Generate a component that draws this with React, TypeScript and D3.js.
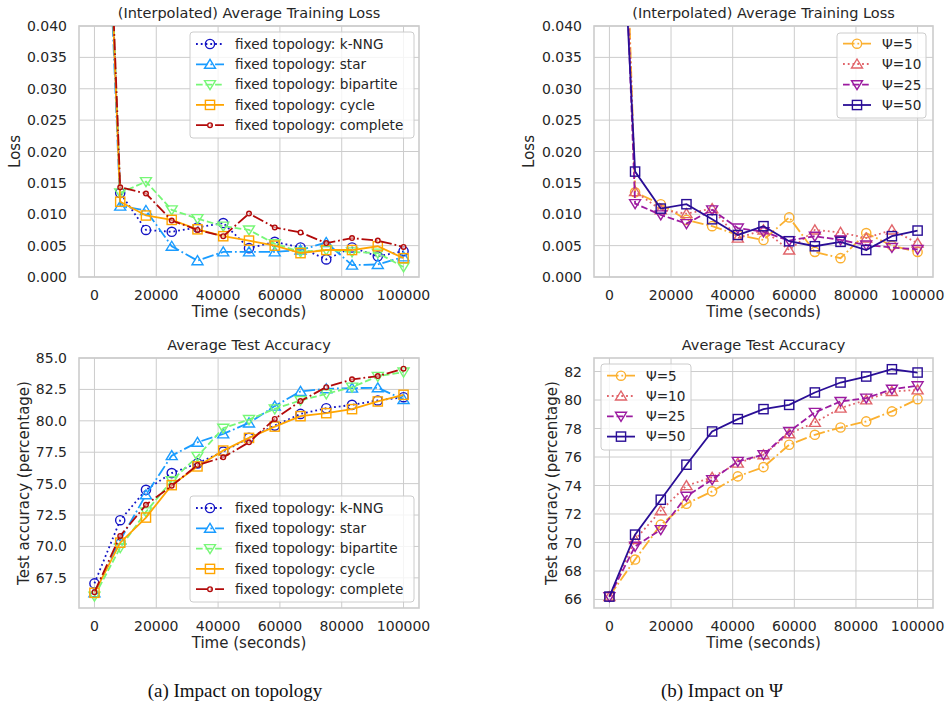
import React from 'react';
import * as d3 from 'd3';

// time axis (seconds), one entry per evaluation round
const times = [0, 8333, 16667, 25000, 33333, 41667, 50000, 58333, 66667, 75000, 83333, 91667, 100000];

// (a) topology - interpolated training loss (first value is off the chart)
const lossKnng = [0.115, 0.0134, 0.0075, 0.0072, 0.0079, 0.0086, 0.0046, 0.0056, 0.0047, 0.0028, 0.0047, 0.0033, 0.0041];
const lossStar = [0.11, 0.0113, 0.0106, 0.0049, 0.0026, 0.004, 0.004, 0.004, 0.0043, 0.0055, 0.0019, 0.002, 0.0032];
const lossBipartite = [0.12, 0.0134, 0.0152, 0.0107, 0.0093, 0.0081, 0.0075, 0.0053, 0.004, 0.0043, 0.004, 0.0038, 0.0016];
const lossCycle = [0.118, 0.012, 0.0098, 0.0091, 0.0076, 0.0065, 0.0058, 0.005, 0.0038, 0.0043, 0.0043, 0.0049, 0.003];
const lossComplete = [0.12, 0.0143, 0.0133, 0.009, 0.0075, 0.0065, 0.0101, 0.0079, 0.0071, 0.0054, 0.0062, 0.0058, 0.0048];

// (a) topology - test accuracy
const accKnng = [67.06, 72.09, 74.51, 75.84, 76.61, 77.55, 78.64, 79.62, 80.55, 81.0, 81.27, 81.62, 81.88];
const accStar = [66.31, 70.5, 74.11, 77.23, 78.29, 78.96, 79.83, 81.17, 82.34, 82.55, 82.6, 82.63, 81.7];
const accBipartite = [66.04, 69.9, 72.75, 75.23, 77.17, 79.41, 80.1, 80.95, 81.62, 82.15, 82.68, 83.54, 83.88];
const accCycle = [66.31, 70.3, 72.3, 74.88, 76.37, 77.63, 78.64, 79.54, 80.37, 80.61, 80.93, 81.54, 82.07];
const accComplete = [66.36, 70.84, 73.31, 74.83, 76.48, 77.09, 78.29, 80.15, 81.57, 82.68, 83.3, 83.56, 84.15];

// (b) psi - interpolated training loss
const lossPsi5 = [0.14, 0.0135, 0.0116, 0.0091, 0.0081, 0.0067, 0.0059, 0.0095, 0.004, 0.003, 0.007, 0.005, 0.004];
const lossPsi10 = [0.13, 0.0136, 0.0107, 0.0101, 0.0109, 0.0062, 0.0075, 0.0043, 0.0075, 0.0071, 0.0062, 0.0075, 0.0054];
const lossPsi25 = [0.12, 0.0117, 0.0099, 0.0085, 0.0107, 0.0078, 0.0072, 0.0058, 0.0065, 0.0059, 0.0051, 0.0047, 0.0044];
const lossPsi50 = [0.1, 0.0168, 0.0109, 0.0116, 0.0092, 0.0067, 0.0081, 0.0057, 0.0049, 0.0056, 0.0043, 0.0065, 0.0074];

// (b) psi - test accuracy
const accPsi5 = [66.23, 68.8, 71.25, 72.72, 73.59, 74.64, 75.29, 76.86, 77.56, 78.07, 78.5, 79.2, 80.06];
const accPsi10 = [66.2, 70.2, 72.23, 73.99, 74.57, 75.57, 76.16, 77.63, 78.43, 79.43, 80.01, 80.6, 80.71];
const accPsi25 = [66.2, 69.73, 70.9, 73.24, 74.41, 75.69, 76.16, 77.79, 79.13, 79.9, 80.13, 80.76, 81.0];
const accPsi50 = [66.2, 70.55, 73.0, 75.46, 77.79, 78.66, 79.36, 79.66, 80.53, 81.23, 81.65, 82.16, 81.93];

const xTicks = [0, 20000, 40000, 60000, 80000, 100000];
const lossTicks = [0, 0.005, 0.01, 0.015, 0.02, 0.025, 0.03, 0.035, 0.04];
const accTicksA = [67.5, 70, 72.5, 75, 77.5, 80, 82.5, 85];
const accTicksB = [66, 68, 70, 72, 74, 76, 78, 80, 82];

const FONT = '"DejaVu Sans", Verdana, sans-serif';
const GRID = '#cccccc';
const TEXT = '#262626';
const LW = 1.8;

const DASH: Record<string, string> = {
  solid: '',
  dotted: `${LW} ${LW * 1.65}`,
  dashed: `${LW * 3.7} ${LW * 1.6}`,
  dashdot: `${LW * 6.4} ${LW * 1.6} ${LW} ${LW * 1.6}`,
};

type Shape = 'circle' | 'up' | 'down' | 'square' | 'dot';
type Series = { name: string; values: number[]; color: string; dash: string; marker: Shape };

const topoLoss: Series[] = [
  { name: 'fixed topology: k-NNG', values: lossKnng, color: '#1414c4', dash: 'dotted', marker: 'circle' },
  { name: 'fixed topology: star', values: lossStar, color: '#1a9cff', dash: 'dashdot', marker: 'up' },
  { name: 'fixed topology: bipartite', values: lossBipartite, color: '#77f777', dash: 'dashed', marker: 'down' },
  { name: 'fixed topology: cycle', values: lossCycle, color: '#ffa500', dash: 'solid', marker: 'square' },
  { name: 'fixed topology: complete', values: lossComplete, color: '#b20a0a', dash: 'dashdot', marker: 'dot' },
];
const topoAcc: Series[] = topoLoss.map((s, i) => ({
  ...s,
  values: [accKnng, accStar, accBipartite, accCycle, accComplete][i],
}));

const psiLoss: Series[] = [
  { name: 'Ψ=5', values: lossPsi5, color: '#fbb030', dash: 'dashdot', marker: 'circle' },
  { name: 'Ψ=10', values: lossPsi10, color: '#e1646a', dash: 'dotted', marker: 'up' },
  { name: 'Ψ=25', values: lossPsi25, color: '#9c1ba0', dash: 'dashed', marker: 'down' },
  { name: 'Ψ=50', values: lossPsi50, color: '#2a0e96', dash: 'solid', marker: 'square' },
];
const psiAcc: Series[] = psiLoss.map((s, i) => ({
  ...s,
  values: [accPsi5, accPsi10, accPsi25, accPsi50][i],
}));

function Marker({ shape, x, y, color }: { shape: Shape; x: number; y: number; color: string }) {
  const common = { fill: 'none', stroke: color, strokeWidth: 1.4 };
  if (shape === 'circle') return <circle cx={x} cy={y} r={4.6} {...common} />;
  if (shape === 'dot') return <circle cx={x} cy={y} r={2.3} {...common} fill="#ffffff" fillOpacity={0.5} />;
  if (shape === 'square') return <rect x={x - 4.6} y={y - 4.6} width={9.2} height={9.2} {...common} />;
  const h = 5;
  const pts =
    shape === 'up'
      ? [[x, y - h], [x - 5.5, y + h * 0.8], [x + 5.5, y + h * 0.8]]
      : [[x, y + h], [x - 5.5, y - h * 0.8], [x + 5.5, y - h * 0.8]];
  return <polygon points={pts.map((p) => p.join(',')).join(' ')} {...common} />;
}

type PanelProps = {
  id: string;
  left: number;
  right: number;
  top: number;
  bottom: number;
  title: string;
  ylabel: string;
  ylabelX: number;
  yDomain: [number, number];
  yTicks: number[];
  yFormat: (v: number) => string;
  series: Series[];
  legend: { x: number; y: number; w: number; h: number; rowY: number[] };
};

function Panel(p: PanelProps) {
  const x = d3.scaleLinear().domain([-5000, 105000]).range([p.left, p.right]);
  const y = d3.scaleLinear().domain(p.yDomain).range([p.bottom, p.top]);
  const line = d3
    .line<number>()
    .x((_, i) => x(times[i]))
    .y((v) => y(v));
  const cx = (p.left + p.right) / 2;
  const cy = (p.top + p.bottom) / 2;
  const lg = p.legend;
  return (
    <g fontFamily={FONT}>
      <defs>
        <clipPath id={`clip-${p.id}`}>
          <rect x={p.left} y={p.top} width={p.right - p.left} height={p.bottom - p.top} />
        </clipPath>
      </defs>
      {/* grid */}
      {p.yTicks.map((t) => (
        <line key={`gy${t}`} x1={p.left} x2={p.right} y1={y(t)} y2={y(t)} stroke={GRID} strokeWidth={1} />
      ))}
      {xTicks.map((t) => (
        <line key={`gx${t}`} x1={x(t)} x2={x(t)} y1={p.top} y2={p.bottom} stroke={GRID} strokeWidth={1} />
      ))}
      <rect x={p.left} y={p.top} width={p.right - p.left} height={p.bottom - p.top} fill="none" stroke={GRID} strokeWidth={1.6} />
      {/* ticks */}
      {p.yTicks.map((t) => (
        <text key={`ty${t}`} x={p.left - 12} y={y(t)} dy="0.36em" textAnchor="end" fontSize={14} fill={TEXT}>
          {p.yFormat(t)}
        </text>
      ))}
      {xTicks.map((t) => (
        <text key={`tx${t}`} x={x(t)} y={p.bottom + 23} textAnchor="middle" fontSize={14} fill={TEXT}>
          {d3.format('d')(t)}
        </text>
      ))}
      <text x={cx} y={p.bottom + 40} textAnchor="middle" fontSize={15} fill={TEXT}>
        Time (seconds)
      </text>
      <text x={p.ylabelX} y={cy} transform={`rotate(-90 ${p.ylabelX} ${cy})`} textAnchor="middle" dy="0.35em" fontSize={15} fill={TEXT}>
        {p.ylabel}
      </text>
      <text x={cx} y={p.top - 8} textAnchor="middle" fontSize={14.5} fill={TEXT}>
        {p.title}
      </text>
      {/* data */}
      <g clipPath={`url(#clip-${p.id})`}>
        {p.series.map((s) => (
          <g key={s.name}>
            <path d={line(s.values) || ''} fill="none" stroke={s.color} strokeWidth={LW} strokeDasharray={DASH[s.dash]} />
            {s.values.map((v, i) => (
              <Marker key={i} shape={s.marker} x={x(times[i])} y={y(v)} color={s.color} />
            ))}
          </g>
        ))}
      </g>
      {/* legend */}
      <rect x={lg.x} y={lg.y} width={lg.w} height={lg.h} rx={3} fill="#ffffff" fillOpacity={0.8} stroke={GRID} strokeWidth={1} />
      {p.series.map((s, i) => {
        const ry = lg.rowY[i];
        const hx0 = lg.x + 6;
        const hx1 = hx0 + 28;
        return (
          <g key={`lg${s.name}`}>
            <line x1={hx0} x2={hx1} y1={ry} y2={ry} stroke={s.color} strokeWidth={LW} strokeDasharray={DASH[s.dash]} />
            <Marker shape={s.marker} x={(hx0 + hx1) / 2} y={ry} color={s.color} />
            <text x={hx1 + 11} y={ry} dy="0.36em" fontSize={13.6} fill={TEXT}>
              {s.name}
            </text>
          </g>
        );
      })}
    </g>
  );
}

export default function App() {
  const f3 = d3.format('.3f');
  const f1 = d3.format('.1f');
  const fd = d3.format('d');
  return (
    <svg width={946} height={708} style={{ position: 'absolute', left: 0, top: 0, background: '#ffffff' }}>
      <rect width={946} height={708} fill="#ffffff" />
      <Panel
        id="a1"
        left={79}
        right={419}
        top={26}
        bottom={277}
        title="(Interpolated) Average Training Loss"
        ylabel="Loss"
        ylabelX={15}
        yDomain={[0, 0.04]}
        yTicks={lossTicks}
        yFormat={f3}
        series={topoLoss}
        legend={{ x: 190, y: 32, w: 224, h: 106, rowY: [44, 64.3, 84.6, 104.9, 125.2] }}
      />
      <Panel
        id="b1"
        left={594}
        right={933}
        top={26}
        bottom={277}
        title="(Interpolated) Average Training Loss"
        ylabel="Loss"
        ylabelX={529}
        yDomain={[0, 0.04]}
        yTicks={lossTicks}
        yFormat={f3}
        series={psiLoss}
        legend={{ x: 837, y: 33, w: 89, h: 85, rowY: [43.7, 64, 84.7, 105] }}
      />
      <Panel
        id="a2"
        left={79}
        right={419}
        top={358}
        bottom={608}
        title="Average Test Accuracy"
        ylabel="Test accuracy (percentage)"
        ylabelX={24}
        yDomain={[65.1, 85.0]}
        yTicks={accTicksA}
        yFormat={f1}
        series={topoAcc}
        legend={{ x: 190, y: 496, w: 224, h: 106, rowY: [508, 528.3, 548.6, 568.9, 589.2] }}
      />
      <Panel
        id="b2"
        left={594}
        right={933}
        top={358}
        bottom={608}
        title="Average Test Accuracy"
        ylabel="Test accuracy (percentage)"
        ylabelX={552}
        yDomain={[65.4, 82.95]}
        yTicks={accTicksB}
        yFormat={fd}
        series={psiAcc}
        legend={{ x: 601, y: 364, w: 90, h: 86, rowY: [375.7, 396, 416.3, 436.6] }}
      />
      <text x={235} y={697} textAnchor="middle" fontSize={19} fontFamily='"Liberation Serif", "DejaVu Serif", serif' fill="#111">
        (a) Impact on topology
      </text>
      <text x={722} y={697} textAnchor="middle" fontSize={19} fontFamily='"Liberation Serif", "DejaVu Serif", serif' fill="#111">
        (b) Impact on Ψ
      </text>
    </svg>
  );
}
